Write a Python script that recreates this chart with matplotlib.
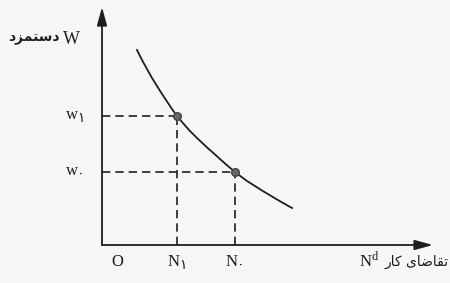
import matplotlib
matplotlib.use('Agg')
import matplotlib.pyplot as plt

# labour demand curve (origin at O, units ~ pixels)
curve_n = [35, 40, 45, 50, 55, 60, 65, 70, 75, 80, 87, 95, 104, 113, 123, 133, 145, 160, 175, 190]
curve_w = [195, 185, 176, 167, 159, 151, 143.5, 136, 129, 123, 115, 107, 98.5, 90.5, 81.5, 73,
           64, 54.5, 45.5, 37]

# the two marked points (N1, w1) and (N0, w0)
point_n = [75, 133]
point_w = [129, 73]
n_subs = ['\u06F1', '\u06F0']   # Persian digits 1 and 0
w_subs = ['\u06F1', '\u06F0']

# Persian labels, pre-shaped into presentation forms (visual order)
wage_label = '\uFEA9\uFEB0\uFEE4\uFE98\uFEB3\uFEA9'           # دستمزد
demand_label = '\uFEAD\uFE8E\uFEDB \uFEEF\uFE8E\uFEBF\uFE8E\uFED8\uFE97'  # تقاضای کار

ink = '#1e1e1e'
serif = ['Liberation Serif', 'DejaVu Serif']
fa = ['DejaVu Sans']

fig = plt.figure(figsize=(4.5, 2.83), dpi=100)
fig.patch.set_facecolor('#f6f6f4')
ax = fig.add_axes([0, 0, 1, 1])
ax.set_facecolor('#f6f6f4')
ax.set_xlim(-102, 348)
ax.set_ylim(-38, 245)
ax.axis('off')

arrow = dict(arrowstyle='-|>,head_length=1.1,head_width=0.3', color=ink, lw=1.3,
             shrinkA=0, shrinkB=0)
ax.annotate('', xy=(0, 238), xytext=(0, 0), arrowprops=arrow)
ax.annotate('', xy=(331, 0), xytext=(0, 0), arrowprops=arrow)

ax.plot(curve_n, curve_w, color=ink, lw=1.3, solid_joinstyle='round')

for n, w in zip(point_n, point_w):
    ax.plot([0, n], [w, w], color=ink, lw=1.2, ls=(0, (5, 3)))
    ax.plot([n, n], [0, w], color=ink, lw=1.2, ls=(0, (5, 3)))
ax.scatter(point_n, point_w, s=30, color='#666666', edgecolors='#444444', zorder=3)

# axis labels
ax.text(-31, 206, 'W', family=serif, fontsize=13, ha='center', va='center', color=ink)
ax.text(-68, 207, wage_label, family=fa, fontsize=10, fontweight='bold',
        ha='center', va='center', color=ink)
ax.text(15, -17, 'O', family=serif, fontsize=12, ha='center', va='center', color=ink)
ax.text(264, -17, 'N', family=serif, fontsize=12, ha='center', va='center', color=ink)
ax.text(273, -12, 'd', family=serif, fontsize=9, ha='center', va='center', color=ink)
ax.text(315, -17, demand_label, family=fa, fontsize=10, ha='center', va='center', color=ink)

for n, w, ns, ws in zip(point_n, point_w, n_subs, w_subs):
    ax.text(n - 3, -17, 'N', family=serif, fontsize=12, ha='center', va='center', color=ink)
    ax.text(n + 6, -20, ns, family=fa, fontsize=10, ha='center', va='center', color=ink)
    ax.text(-30, w + 1, 'w', family=serif, fontsize=12, ha='center', va='center', color=ink)
    ax.text(-21, w - 2, ws, family=fa, fontsize=10, ha='center', va='center', color=ink)

fig.savefig('out.png', dpi=100, facecolor=fig.get_facecolor())
